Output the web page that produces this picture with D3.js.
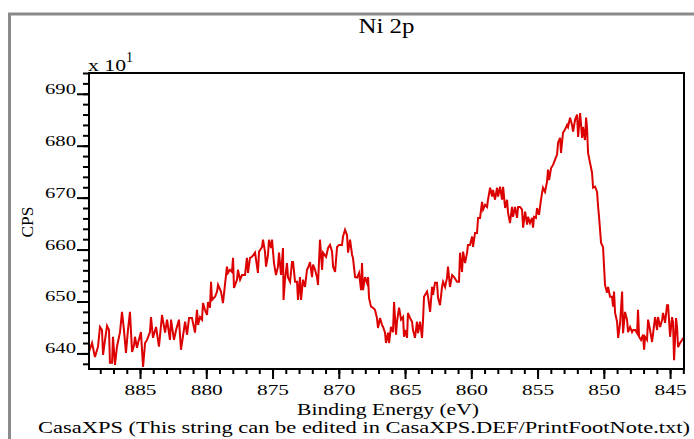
<!DOCTYPE html>
<html><head><meta charset="utf-8">
<script src="https://cdn.jsdelivr.net/npm/d3@7/dist/d3.min.js"></script>
<style>html,body{margin:0;padding:0;background:#fff;}svg{display:block;}</style>
</head><body>
<script>
const title = "Ni 2p";
const yLabel = "CPS";
const xLabel = "Binding Energy (eV)";
const footNote = "CasaXPS (This string can be edited in CasaXPS.DEF/PrintFootNote.txt)";
const yMajorTicks = [640, 650, 660, 670, 680, 690];
const xMajorTicks = [885, 880, 875, 870, 865, 860, 855, 850, 845];
const xDomain = [888.85, 843.95];
const yDomain = [637.0, 694.0];

const energy = [
888.85,888.62,888.40,888.17,888.02,887.87,887.79,887.64,887.49,887.34,887.27,887.11,887.04,886.89,886.74,886.51,886.36,886.21,886.06,885.91,
885.76,885.60,885.45,885.38,885.23,885.15,884.93,884.77,884.62,884.47,884.25,884.17,884.02,883.79,883.57,883.34,883.11,882.96,882.74,882.66,
882.44,882.28,882.06,881.91,881.60,881.45,881.30,881.08,880.85,880.70,
880.62,880.47,880.32,880.25,880.10,879.94,879.87,879.72,879.64,879.57,879.34,879.19,879.11,878.89,878.74,878.59,878.44,878.36,878.21,878.06,
877.98,877.91,877.68,877.61,877.45,877.30,877.08,876.93,876.85,876.70,876.55,876.32,876.10,876.02,875.79,875.72,875.57,875.49,875.34,875.27,
875.11,875.04,874.89,874.74,874.59,874.51,874.36,874.21,874.17,874.06,873.91,873.83,873.68,873.53,873.45,873.30,873.15,873.08,
872.93,872.85,872.70,872.55,872.40,872.32,872.17,872.02,871.94,871.79,871.64,871.57,871.42,871.26,871.19,870.96,870.81,870.66,870.51,870.43,
870.28,870.13,869.98,869.76,869.68,869.53,869.38,869.30,869.15,869.00,868.93,868.77,868.62,868.47,868.32,868.25,868.17,868.02,867.87,867.79,
867.72,867.57,867.42,867.27,867.12,867.04,866.89,866.74,866.66,866.51,866.44,866.28,866.21,866.06,865.91,865.83,865.68,865.61,865.45,865.30,
865.15,865.08,
865.00,864.85,864.78,864.62,864.47,864.40,864.25,864.10,864.02,863.87,863.72,863.64,863.57,863.34,863.26,863.11,862.96,862.89,862.74,862.59,
862.51,862.36,862.21,862.13,861.98,861.83,861.76,861.61,861.45,861.30,861.08,860.93,860.85,860.70,860.62,860.47,860.32,860.25,860.10,859.94,
859.87,859.72,859.57,859.49,859.34,859.19,859.11,858.96,858.81,858.74,858.58,858.43,858.36,858.21,858.06,857.98,857.83,857.68,857.60,857.45,
857.30,857.23,
857.08,856.93,856.85,856.70,856.55,856.47,856.32,856.17,856.09,855.94,855.79,855.72,855.57,855.42,855.34,855.27,855.12,855.04,854.89,854.74,
854.66,854.59,854.44,854.29,854.21,854.13,853.98,853.83,853.68,853.53,853.45,853.30,853.23,853.08,852.93,852.77,852.70,852.55,852.40,852.32,
852.17,852.02,851.94,851.79,851.64,851.57,851.42,851.34,851.27,851.19,851.04,850.89,850.81,850.66,850.51,850.43,850.36,850.21,850.06,
849.91,849.76,849.68,849.53,849.38,849.30,849.23,849.15,849.00,848.92,848.77,848.62,848.55,848.40,848.25,848.17,848.02,847.87,847.79,847.64,
847.49,847.42,847.34,847.19,847.04,846.96,846.89,846.74,846.66,846.51,846.36,846.28,846.13,845.98,845.91,845.75,845.60,845.53,845.38,845.23,
845.15,845.00,844.85,844.78,844.70,844.55,844.47,844.40,844.25,844.10,844.02
];
const cps = [
640.3,642.0,639.3,641.3,645.1,644.5,639.7,642.6,645.3,644.5,638.2,638.2,643.2,637.8,641.3,644.1,648.0,644.5,640.1,644.5,
648.0,640.3,641.6,643.2,641.1,642.0,644.1,637.4,642.0,642.6,644.1,647.0,643.0,645.1,641.3,647.4,644.0,646.5,642.6,646.5,
642.6,644.5,646.5,640.7,646.1,643.6,646.8,646.8,644.0,648.4,
645.5,647.0,646.5,649.7,648.4,647.4,649.9,648.8,653.8,650.3,650.9,651.9,653.2,651.9,649.7,653.2,656.7,655.5,656.1,655.7,
658.4,652.6,654.2,656.1,654.2,655.1,655.1,658.4,655.5,658.4,658.6,659.4,655.5,659.6,660.5,661.9,659.6,656.7,659.0,661.9,
660.3,661.9,657.4,655.1,656.7,659.4,655.1,660.3,650.3,654.2,657.4,654.6,653.8,657.6,657.6,653.8,653.8,650.3,
654.7,650.3,654.2,652.8,656.1,656.5,657.6,654.7,657.1,656.1,654.6,653.2,661.9,656.1,659.4,658.6,660.3,660.9,659.6,656.7,
655.7,660.5,660.9,660.9,662.5,663.8,662.8,659.4,661.9,659.0,658.4,654.7,654.6,655.5,652.2,657.4,652.2,654.7,653.6,654.7,
650.7,649.0,648.8,648.4,646.8,644.9,646.8,645.5,645.1,644.0,642.0,644.0,642.0,645.1,644.1,649.9,643.6,646.1,648.8,646.5,
647.0,643.2,
644.5,643.0,647.8,646.8,646.1,644.5,643.0,646.1,643.9,646.1,643.0,646.5,650.9,651.9,650.9,648.0,652.8,651.3,653.6,653.6,
650.7,649.3,652.8,653.8,652.8,654.6,656.7,652.8,655.1,654.7,653.8,653.8,659.4,655.7,659.6,657.4,659.4,660.9,660.9,662.5,
660.5,663.2,663.2,666.1,666.1,669.2,667.7,668.6,668.2,669.6,671.9,670.2,671.5,669.6,671.9,670.2,672.1,669.6,672.1,668.0,
669.6,667.1,
665.1,668.2,666.3,668.2,666.1,668.2,668.2,667.7,664.2,667.3,664.8,666.3,665.1,666.1,664.2,666.3,666.1,668.0,666.7,669.6,
670.9,671.9,671.1,673.0,675.4,673.4,675.7,676.3,677.3,678.3,680.6,681.5,678.6,682.5,683.1,684.0,683.6,685.4,684.0,682.7,
685.0,686.0,681.7,686.3,681.5,683.6,681.1,685.4,683.6,678.6,676.7,674.8,671.9,672.1,671.1,668.2,666.3,661.3,660.5,
653.2,651.7,652.8,650.9,650.9,649.0,651.9,647.8,646.1,643.0,645.9,651.9,643.9,648.0,646.5,644.1,645.1,644.1,644.5,644.5,
643.9,648.4,643.2,642.6,643.6,640.7,643.2,642.6,646.5,644.5,642.2,643.9,647.0,644.5,647.0,645.1,646.5,647.8,645.9,649.3,
649.3,643.2,647.0,646.1,638.7,646.8,644.9,641.2,642.0,642.6,643.0
];

(function () {
const W = 694, H = 439;
const pLeft = 89, pRight = 684, pTop = 73, pBottom = 369;
const FONT = "'Liberation Serif', 'Times New Roman', Times, serif";

const svg = d3.select("body").append("svg").attr("width", W).attr("height", H);
svg.append("rect").attr("width", W).attr("height", H).attr("fill", "#fff");

svg.append("rect").attr("x", 9.5).attr("y", 14).attr("width", W + 20).attr("height", H + 20)
  .attr("fill", "none").attr("stroke", "#8a8a8a").attr("stroke-width", 3);

const x = d3.scaleLinear().domain(xDomain).range([pLeft, pRight]);
const y = d3.scaleLinear().domain(yDomain).range([pBottom, pTop]);

const yMinor = svg.append("g").attr("transform", `translate(${pLeft},0)`)
  .call(d3.axisLeft(y).tickValues(y.ticks(30)).tickSize(6).tickFormat(""));
const yMajor = svg.append("g").attr("transform", `translate(${pLeft},0)`)
  .call(d3.axisLeft(y).tickValues(yMajorTicks).tickSize(12).tickFormat(d3.format("d")));
const xMinor = svg.append("g").attr("transform", `translate(0,${pBottom})`)
  .call(d3.axisBottom(x).tickValues(x.ticks(45)).tickSize(5).tickFormat(""));
const xMajor = svg.append("g").attr("transform", `translate(0,${pBottom})`)
  .call(d3.axisBottom(x).tickValues(xMajorTicks).tickSize(10).tickFormat(d3.format("d")));

[yMinor, yMajor, xMinor, xMajor].forEach(g => {
  g.select(".domain").remove();
  g.selectAll(".tick line").attr("stroke", "#000").attr("stroke-width", 2);
});
yMajor.selectAll(".tick text")
  .attr("x", -13).attr("dy", "-0.5").attr("text-anchor", "end")
  .attr("font-family", FONT).attr("font-size", 15).attr("fill", "#000")
  .attr("textLength", 31).attr("lengthAdjust", "spacingAndGlyphs");
xMajor.selectAll(".tick text")
  .attr("y", 26).attr("dy", 0).attr("text-anchor", "middle")
  .attr("font-family", FONT).attr("font-size", 15).attr("fill", "#000")
  .attr("textLength", 32).attr("lengthAdjust", "spacingAndGlyphs");

const line = d3.line().x((d, i) => x(energy[i])).y(d => y(d)).curve(d3.curveLinear);
svg.append("path").datum(cps).attr("d", line)
  .attr("fill", "none").attr("stroke", "#dc0000").attr("stroke-width", 2)
  .attr("stroke-linejoin", "miter");

svg.append("rect").attr("x", pLeft).attr("y", pTop).attr("width", pRight - pLeft).attr("height", pBottom - pTop)
  .attr("fill", "none").attr("stroke", "#000").attr("stroke-width", 2);

svg.append("text").attr("x", (pLeft + pRight) / 2).attr("y", 33).attr("text-anchor", "middle")
  .attr("font-family", FONT).attr("font-size", 20).attr("textLength", 56).attr("lengthAdjust", "spacingAndGlyphs")
  .text(title);

const mult = svg.append("text").attr("x", 88).attr("y", 71)
  .attr("font-family", FONT).attr("font-size", 16);
mult.append("tspan").attr("textLength", 38).attr("lengthAdjust", "spacingAndGlyphs").text("x 10");
mult.append("tspan").attr("dy", -9).attr("font-size", 14).text("1");

svg.append("text").attr("transform", "translate(33,222) rotate(-90)").attr("text-anchor", "middle")
  .attr("font-family", FONT).attr("font-size", 16).attr("textLength", 31).attr("lengthAdjust", "spacingAndGlyphs")
  .text(yLabel);

svg.append("text").attr("x", 388).attr("y", 415).attr("text-anchor", "middle")
  .attr("font-family", FONT).attr("font-size", 16).attr("textLength", 182).attr("lengthAdjust", "spacingAndGlyphs")
  .text(xLabel);

svg.append("text").attr("x", 364).attr("y", 433).attr("text-anchor", "middle")
  .attr("font-family", FONT).attr("font-size", 16).attr("textLength", 652).attr("lengthAdjust", "spacingAndGlyphs")
  .text(footNote);
})();
</script>
</body></html>
